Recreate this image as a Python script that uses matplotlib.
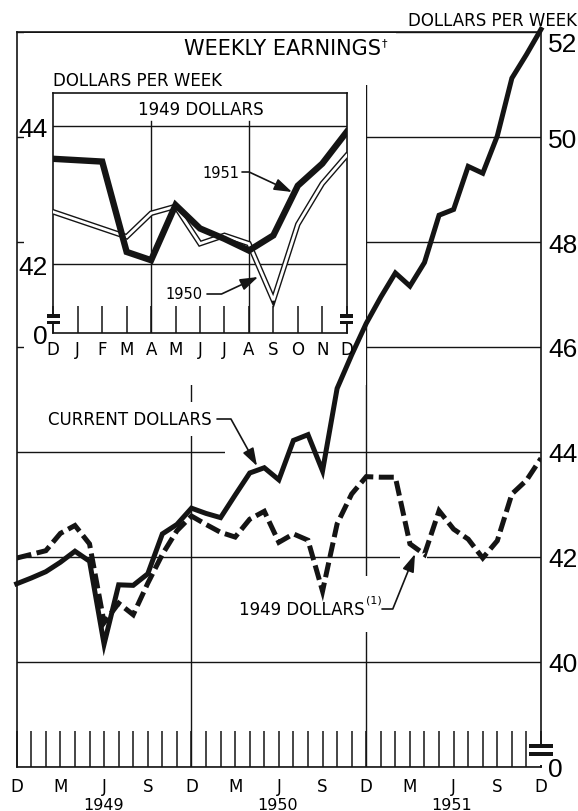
import matplotlib.pyplot as plt
from matplotlib.patches import Rectangle


W, H = 578, 812
INK = "#141414"
NUM_FONT = ["DejaVu Sans Condensed", "Liberation Sans Narrow", "Liberation Sans", "DejaVu Sans"]

plt.rcParams["font.family"] = ["DejaVu Sans"]

# monthly, Dec 1948 .. Dec 1951
months = list(range(37))
current_dollars = [
    41.49, 41.60, 41.72, 41.90, 42.11, 41.92, 40.34, 41.47, 41.46, 41.68, 42.44, 42.62,
    42.93, 42.83, 42.75, 43.18, 43.60, 43.70, 43.47, 44.22, 44.33, 43.64, 45.21, 45.85,
    46.45, 46.95, 47.41, 47.16, 47.61, 48.51, 48.62, 49.44, 49.31, 50.02, 51.12, 51.57,
    52.05,
]
dollars_1949 = [
    41.98, 42.05, 42.12, 42.45, 42.60, 42.25, 40.75, 41.12, 40.90, 41.50, 42.05, 42.50,
    42.78, 42.62, 42.47, 42.38, 42.72, 42.87, 42.28, 42.44, 42.32, 41.35, 42.63, 43.20,
    43.53, 43.52, 43.52, 42.25, 42.05, 42.88, 42.53, 42.34, 41.98, 42.31, 43.20, 43.46,
    43.88,
]
month_labels = ["D", "", "", "M", "", "", "J", "", "", "S", "", ""] * 3 + ["D"]
year_labels = ["1949", "1950", "1951"]
year_label_x = [104, 278, 452]

right_ticks = [38, 40, 42, 44, 46, 48, 50, 52]
right_labels = ["0", "40", "42", "44", "46", "48", "50", "52"]

# inset: 1949 dollars, Dec to Dec
inset_months = ["D", "J", "F", "M", "A", "M", "J", "J", "A", "S", "O", "N", "D"]
inset_1950 = [42.76, 42.64, 42.52, 42.40, 42.74, 42.84, 42.30, 42.42, 42.30, 41.48, 42.58, 43.17, 43.58]
inset_1951 = [43.53, 43.51, 43.49, 42.18, 42.06, 42.86, 42.52, 42.37, 42.20, 42.42, 43.14, 43.46, 43.92]


def fp(x, y):
    # image pixel -> figure fraction
    return (x / W, 1 - y / H)


def box(x0, y0, x1, y1, color="white", zorder=1.8):
    return Rectangle(fp(x0, y1), (x1 - x0) / W, (y1 - y0) / H,
                     transform=fig.transFigure, facecolor=color,
                     edgecolor="none", zorder=zorder)


fig = plt.figure(figsize=(W / 100, H / 100), dpi=100)

# main chart
ax = fig.add_axes([16.7 / W, 1 - 768 / H, (541 - 16.7) / W, 735 / H])
ax.set_xlim(0, 36)
ax.set_ylim(38, 52)

ax.plot(months, current_dollars, color=INK, lw=3.6,
        solid_joinstyle="miter", zorder=3, clip_on=False)
ax.plot(months, dollars_1949, color=INK, lw=3.6, dashes=(3.0, 1.1),
        dash_joinstyle="miter", zorder=3)

ax.grid(axis="y", color=INK, lw=1.0)
ax.grid(axis="x", visible=False)
for m in (12, 24):
    ax.axvline(m, color=INK, lw=1.0, zorder=1.2)

ax.set_xticks(months, month_labels)
ax.tick_params(axis="x", direction="in", length=26, width=1.1,
               pad=7, labelsize=12, color=INK)
ax.yaxis.tick_right()
ax.set_yticks(right_ticks, right_labels)
ax.tick_params(axis="y", length=0, pad=5, labelsize=19)
for lab in ax.get_yticklabels():
    lab.set_family(NUM_FONT)
ax.get_yticklabels()[-1].set_va("top")
for s in ax.spines.values():
    s.set_linewidth(1.2)
    s.set_color(INK)

# white areas behind inset, title and labels
ax.add_patch(box(24, 34, 366, 386))
ax.add_patch(box(170, 34, 396, 86))
ax.add_patch(box(35, 403, 215, 437))
ax.add_patch(box(225, 445, 287, 457))
ax.add_patch(box(400, 550, 427, 562))
ax.add_patch(box(236, 577, 372, 633))

# axis break at bottom right
fig.add_artist(box(529, 745, 553, 757, color=INK, zorder=5))
fig.add_artist(box(527, 749, 555, 753, zorder=6))
fig.add_artist(box(538, 757, 544, 766, zorder=6))

for label, x in zip(year_labels, year_label_x):
    fig.text(*fp(x, 798), label, ha="center", va="top", fontsize=11.5)

fig.text(*fp(577, 21), "DOLLARS PER WEEK", ha="right", va="center", fontsize=12)
fig.text(*fp(381, 49), "WEEKLY EARNINGS", ha="right", va="center", fontsize=15)
fig.text(*fp(382, 43), "†", ha="left", va="center", fontsize=8)

fig.text(*fp(212, 420), "CURRENT DOLLARS", ha="right", va="center", fontsize=12)
fig.text(*fp(365, 610), "1949 DOLLARS", ha="right", va="center", fontsize=12)
fig.text(*fp(366, 601), "(1)", ha="left", va="center", fontsize=8)

arrow = dict(arrowstyle="-|>,head_length=0.9,head_width=0.3", lw=1.2,
             color=INK, shrinkA=0, shrinkB=0, mutation_scale=12)
ax.annotate("", xy=fp(257, 467), xycoords="figure fraction",
            xytext=fp(217, 420), textcoords="figure fraction",
            arrowprops=dict(arrow, connectionstyle="angle,angleA=0,angleB=-61,rad=0"))
ax.annotate("", xy=fp(415, 555), xycoords="figure fraction",
            xytext=fp(382, 610), textcoords="figure fraction",
            arrowprops=dict(arrow, connectionstyle="angle,angleA=0,angleB=68,rad=0"))

# inset
ax_in = fig.add_axes([53.3 / W, 1 - 334.3 / H, 293.4 / W, 240 / H])
ax_in.set_xlim(0, 12)
ax_in.set_ylim(41.0, 44.48)

ax_in.plot(range(13), inset_1950, color=INK, lw=4.0, solid_joinstyle="miter", zorder=3)
ax_in.plot(range(13), inset_1950, color="white", lw=2.0, solid_joinstyle="miter", zorder=3.1)
ax_in.plot(range(13), inset_1951, color=INK, lw=4.6, solid_joinstyle="miter", zorder=4)

for v in (42, 44):
    ax_in.axhline(v, color=INK, lw=1.0, zorder=1)
for m in (4, 8):
    ax_in.axvline(m, ymax=0.885, color=INK, lw=1.0, zorder=1)

ax_in.set_xticks(range(13), inset_months)
ax_in.tick_params(axis="x", direction="in", length=19.5, width=1.1,
                  pad=5, labelsize=12, color=INK)
ax_in.set_yticks([41.0, 42, 44], ["0", "42", "44"])
ax_in.tick_params(axis="y", length=0, pad=4, labelsize=19)
for lab in ax_in.get_yticklabels():
    lab.set_family(NUM_FONT)
for s in ax_in.spines.values():
    s.set_linewidth(1.2)
    s.set_color(INK)

fig.text(*fp(53, 81), "DOLLARS PER WEEK", ha="left", va="center", fontsize=12)
fig.text(*fp(201, 110), "1949 DOLLARS", ha="center", va="center", fontsize=12)
fig.text(*fp(239, 173), "1951", ha="right", va="center", fontsize=10.5)
fig.text(*fp(203, 295), "1950", ha="right", va="center", fontsize=10.5)

ax_in.annotate("", xy=fp(292, 193), xycoords="figure fraction",
               xytext=fp(242, 173), textcoords="figure fraction",
               arrowprops=dict(arrow, connectionstyle="angle,angleA=0,angleB=-25,rad=0"))
ax_in.annotate("", xy=fp(258, 278), xycoords="figure fraction",
               xytext=fp(207, 295), textcoords="figure fraction",
               arrowprops=dict(arrow, connectionstyle="angle,angleA=0,angleB=25,rad=0"))

# breaks on the inset axis
for x0 in (47, 340):
    fig.add_artist(box(x0, 315, x0 + 13, 325, color=INK, zorder=5))
    fig.add_artist(box(x0 - 1, 318.5, x0 + 14, 321.5, zorder=6))

fig.savefig("out.png", dpi=100)
